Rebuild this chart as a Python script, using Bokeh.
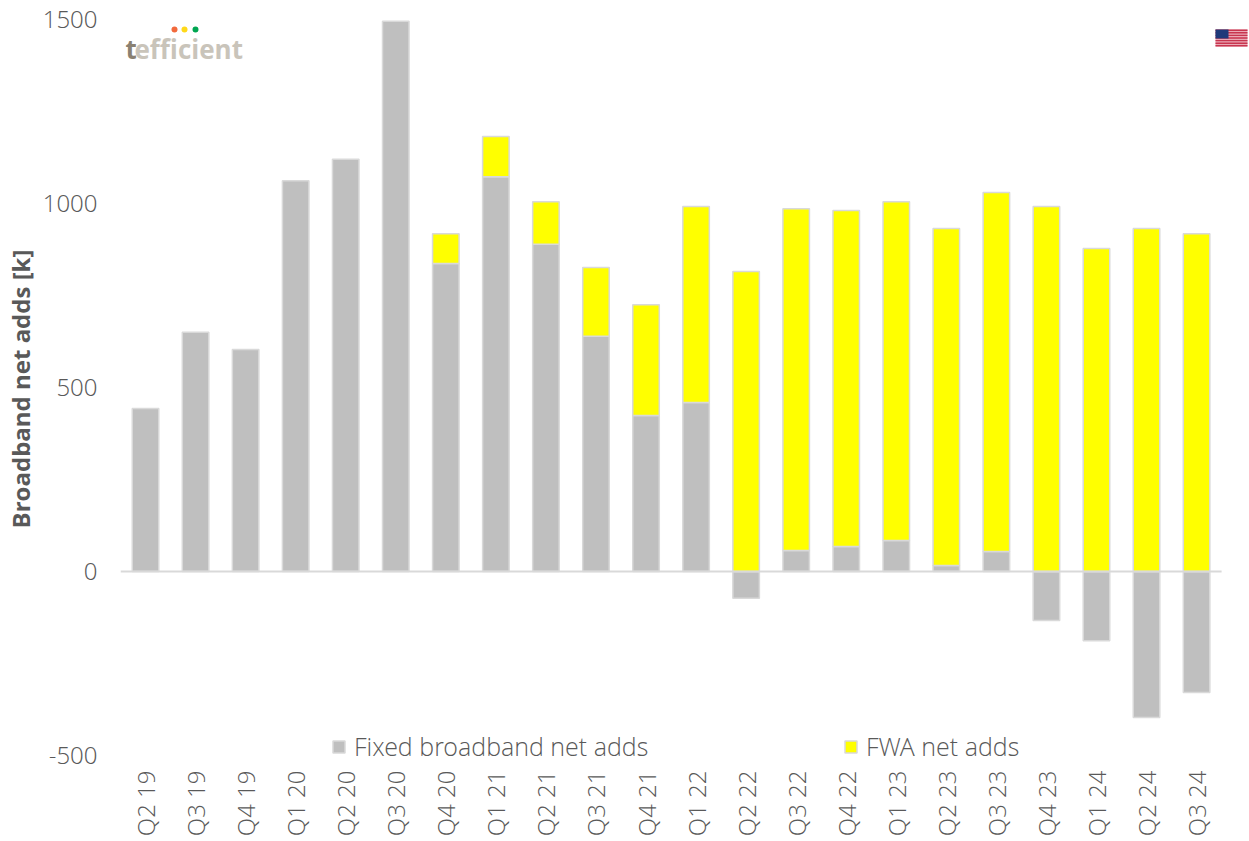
import math
from bokeh.plotting import figure
from bokeh.models import FixedTicker, Legend, LegendItem, Label, BoxAnnotation, ColumnDataSource, Range1d
from bokeh.embed import file_html
from bokeh.resources import INLINE

quarters = ["Q2 19","Q3 19","Q4 19","Q1 20","Q2 20","Q3 20","Q4 20","Q1 21","Q2 21","Q3 21","Q4 21",
            "Q1 22","Q2 22","Q3 22","Q4 22","Q1 23","Q2 23","Q3 23","Q4 23","Q1 24","Q2 24","Q3 24"]
fixed_net_adds = [443,650,603,1062,1120,1495,837,1073,889,639,424,459,-73,57,68,84,16,54,-133,-188,-397,-329]
fwa_net_adds = [0,0,0,0,0,0,81,109,116,187,301,533,815,929,913,921,916,976,992,878,932,918]
y_ticks = [-500,0,500,1000,1500]

FONT = "Open Sans Light, Open Sans"
TXT = "#595959"
xs = [i + 0.5 for i in range(len(quarters))]
fwa_bottom = [max(v, 0) for v in fixed_net_adds]
fwa_top = [b + v for b, v in zip(fwa_bottom, fwa_net_adds)]
src_fixed = ColumnDataSource(dict(x=xs, top=fixed_net_adds))
src_fwa = ColumnDataSource(dict(x=[q for q, v in zip(xs, fwa_net_adds) if v > 0],
                                bottom=[b for b, v in zip(fwa_bottom, fwa_net_adds) if v > 0],
                                top=[t for t, v in zip(fwa_top, fwa_net_adds) if v > 0]))

FRAME_LEFT, FRAME_BOTTOM = 121, 764
p = figure(width=1241, height=833, x_range=Range1d(0, 1128 / 50.05), y_range=Range1d(-524.5, 1516.3),
           output_backend="svg", toolbar_location=None,
           frame_width=1128, frame_height=751,
           min_border_left=113, min_border_right=0, min_border_top=13, min_border_bottom=60)
p.outline_line_color = None
p.background_fill_color = "white"
p.grid.visible = False

r1 = p.vbar(x="x", top="top", bottom=0, width=0.53, source=src_fixed,
            fill_color="#bfbfbf", line_color="#d9d9d9", line_width=1.5)
r2 = p.vbar(x="x", top="top", bottom="bottom", width=0.53, source=src_fwa,
            fill_color="#ffff00", line_color="#d9d9d9", line_width=1.5)
p.segment(x0=[0], x1=[len(quarters)], y0=[0], y1=[0], line_color="#d9d9d9", line_width=2)

ax = p.yaxis[0]
ax.ticker = FixedTicker(ticks=y_ticks)
ax.major_label_overrides = {t: str(t) for t in y_ticks}
ax.axis_line_color = None
ax.major_tick_line_color = None
ax.minor_tick_line_color = None
ax.major_tick_out = 0
ax.major_label_text_font = FONT
ax.major_label_text_font_size = "24px"
ax.major_label_text_color = TXT
ax.major_label_standoff = 23
ax.axis_label = "Broadband net adds [k]"
ax.axis_label_text_font = "Open Sans"
ax.axis_label_text_font_style = "bold"
ax.axis_label_text_font_size = "24px"
ax.axis_label_text_color = "#595959"
ax.axis_label_standoff = 3

xa = p.xaxis[0]
xa.ticker = FixedTicker(ticks=xs)
xa.major_label_overrides = dict(zip(xs, quarters))
xa.axis_line_color = None
xa.major_tick_line_color = None
xa.minor_tick_line_color = None
xa.major_tick_out = 0
xa.major_label_orientation = math.pi / 2
xa.major_label_text_font = FONT
xa.major_label_text_font_size = "24px"
xa.major_label_text_color = TXT
xa.major_label_standoff = 6

def legend(label, rend, x):
    lg = Legend(items=[LegendItem(label=label, renderers=[rend])], location=(x, 1),
                background_fill_alpha=0, border_line_color=None, margin=0, padding=0,
                glyph_width=15, glyph_height=15, label_standoff=8,
                label_text_font=FONT, label_text_font_size="25px", label_text_color=TXT)
    p.add_layout(lg, "center")

legend("Fixed broadband net adds", r1, 211)
legend("FWA net adds", r2, 723)

def sx(px): return px - FRAME_LEFT
def sy(py): return FRAME_BOTTOM - py

# logo
p.add_layout(Label(x=sx(126), y=sy(48), x_units="screen", y_units="screen", text="t", text_font="Open Sans",
                   text_font_style="bold", text_font_size="26px", text_color="#8a8172",
                   text_baseline="alphabetic"))
p.add_layout(Label(x=sx(135), y=sy(48), x_units="screen", y_units="screen", text="efficient", text_font="Open Sans",
                   text_font_style="bold", text_font_size="26px", text_color="#c9c4ba",
                   text_baseline="alphabetic"))

def box(l, r, t, b, col, **kw):
    p.add_layout(BoxAnnotation(left=sx(l), right=sx(r), top=sy(t), bottom=sy(b),
                               left_units="screen", right_units="screen", top_units="screen", bottom_units="screen",
                               fill_color=col, fill_alpha=1, line_color=None, level="overlay", **kw))

for cx, col in [(175, "#f26a3d"), (185, "#ffd91a"), (196, "#00a651")]:
    box(cx - 3, cx + 3, 26, 32, col, border_radius=3)

# flag
box(1216, 1248, 29, 46, "#eaa8b4")
for i in range(7):
    box(1216, 1248, 29 + i * 2.6, 29 + i * 2.6 + 1.4, "#c8354f")
box(1216, 1229, 29, 38, "#1f3a7a")

open("out.html", "w").write(file_html(p, INLINE))
